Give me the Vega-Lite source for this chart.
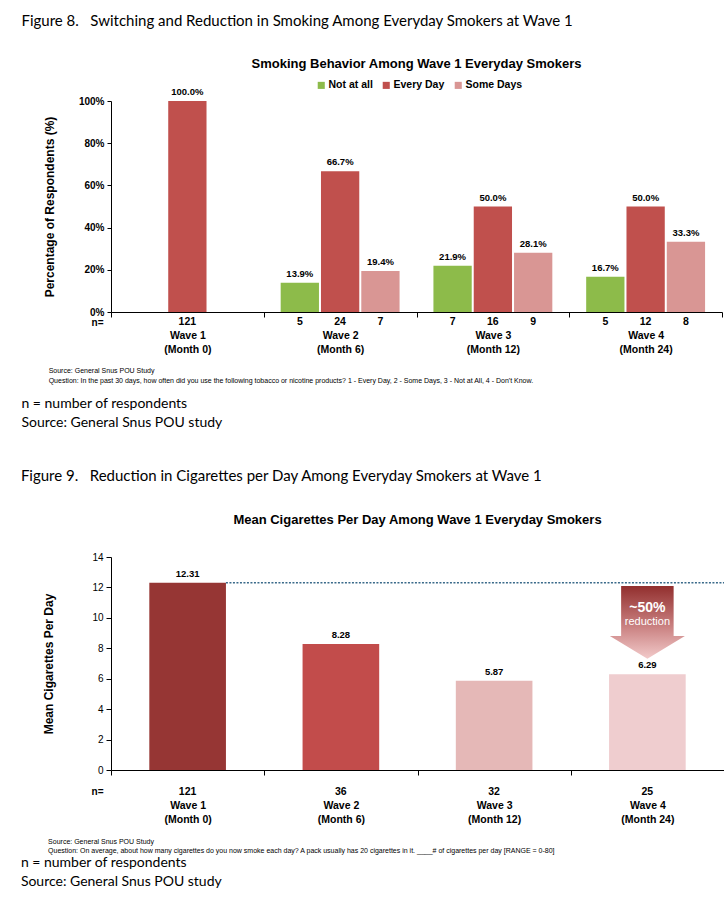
{
  "$schema": "https://vega.github.io/schema/vega-lite/v6.json",
  "background": "white",
  "padding": {"left": 20, "top": 14, "right": 0, "bottom": 0},
  "config": {
    "view": {"stroke": null},
    "font": "Liberation Sans",
    "axis": {"domainColor": "#000", "tickColor": "#000", "labelColor": "#000", "titleColor": "#000", "grid": false, "labelFont": "Liberation Sans", "titleFont": "Liberation Sans"},
    "title": {"color": "#000", "subtitleColor": "#000"}
  },
  "resolve": {"scale": {"color": "independent"}, "legend": {"color": "independent"}},
  "spacing": 39,
  "vconcat": [
    {
      "title": {"text": "Figure 8.\u00a0\u00a0 Switching and Reduction in Smoking Among Everyday Smokers at Wave 1", "anchor": "start", "font": "Lato", "fontSize": 15, "fontWeight": "normal", "dx": 0, "offset": 29},
      "vconcat": [
        {
          "title": {"text": ["\u200b\u00a0\u00a0\u00a0\u00a0\u00a0\u00a0\u00a0\u00a0\u00a0\u00a0\u00a0\u00a0\u00a0\u00a0Source: General Snus POU Study", "\u200b\u00a0\u00a0\u00a0\u00a0\u00a0\u00a0\u00a0\u00a0\u00a0\u00a0\u00a0\u00a0\u00a0\u00a0Question: In the past 30 days, how often did you use the following tobacco or nicotine products? 1 - Every Day, 2 - Some Days, 3 - Not at All, 4 - Don't Know."],
            "subtitle": ["n = number of respondents", "Source: General Snus POU study"],
            "orient": "bottom", "anchor": "start", "font": "Liberation Sans", "fontSize": 7, "fontWeight": "normal", "lineHeight": 10, "dx": -22, "offset": 12,
            "subtitleFont": "Lato", "subtitleFontSize": 14, "subtitleLineHeight": 19, "subtitlePadding": 13},
          "vconcat": [
            {
              "width": 611,
              "height": 211,
              "title": {"text": "Smoking Behavior Among Wave 1 Everyday Smokers", "fontSize": 13, "fontWeight": "bold", "anchor": "middle", "offset": 16},
              "data": {"values": [
                {"wave": "Wave 1 (Month 0)", "status": "Every Day", "pct": 1.0, "n": 121},
                {"wave": "Wave 2 (Month 6)", "status": "Not at all", "pct": 0.139, "n": 5},
                {"wave": "Wave 2 (Month 6)", "status": "Every Day", "pct": 0.667, "n": 24},
                {"wave": "Wave 2 (Month 6)", "status": "Some Days", "pct": 0.194, "n": 7},
                {"wave": "Wave 3 (Month 12)", "status": "Not at all", "pct": 0.219, "n": 7},
                {"wave": "Wave 3 (Month 12)", "status": "Every Day", "pct": 0.5, "n": 16},
                {"wave": "Wave 3 (Month 12)", "status": "Some Days", "pct": 0.281, "n": 9},
                {"wave": "Wave 4 (Month 24)", "status": "Not at all", "pct": 0.167, "n": 5},
                {"wave": "Wave 4 (Month 24)", "status": "Every Day", "pct": 0.5, "n": 12},
                {"wave": "Wave 4 (Month 24)", "status": "Some Days", "pct": 0.333, "n": 8}
              ]},
              "encoding": {
                "x": {"field": "wave", "type": "nominal", "scale": {"type": "band", "paddingInner": 0, "paddingOuter": 0},
                  "axis": {"title": "n=", "titleAngle": 0, "titleX": -14, "titleY": 5, "titleAlign": "center", "titleBaseline": "top", "titleFontSize": 10, "titleFontWeight": "bold",
                    "labelAngle": 0, "labelExpr": "[slice(datum.label, 0, 6), slice(datum.label, 7)]", "labelFontWeight": "bold", "labelFontSize": 10.5, "labelLineHeight": 14, "labelPadding": 13, "tickBand": "extent", "tickSize": 5}},
                "xOffset": {"field": "status", "type": "nominal", "sort": ["Not at all", "Every Day", "Some Days"], "scale": {"domain": ["Not at all", "Every Day", "Some Days"], "paddingInner": 0.05, "paddingOuter": 0.42}},
                "y": {"field": "pct", "type": "quantitative", "scale": {"domain": [0, 1], "nice": false},
                  "axis": {"title": "Percentage of Respondents (%)", "format": "%", "values": [0, 0.2, 0.4, 0.6, 0.8, 1], "labelFontWeight": "bold", "labelFontSize": 10, "titleFontSize": 12, "titleFontWeight": "bold", "tickSize": 4, "labelPadding": 3, "titlePadding": 22}}
              },
              "layer": [
                {
                  "mark": {"type": "bar"},
                  "encoding": {
                    "color": {"field": "status", "type": "nominal", "scale": {"domain": ["Not at all", "Every Day", "Some Days"], "range": ["#8DBB4A", "#C0504D", "#D99694"]},
                      "legend": {"title": null, "orient": "none", "legendX": 205, "legendY": -21, "direction": "horizontal", "symbolType": "square", "symbolSize": 50, "symbolStrokeWidth": 0, "labelFontSize": 10.5, "labelFontWeight": "bold", "labelColor": "#000", "columnPadding": 8, "labelOffset": 2}}
                  }
                },
                {
                  "mark": {"type": "text", "dy": -9, "fontWeight": "bold", "fontSize": 9.5, "color": "#000"},
                  "encoding": {
                    "text": {"field": "pct", "type": "quantitative", "format": ".1%"}
                  }
                },
                {
                  "mark": {"type": "text", "dy": 10, "fontWeight": "bold", "fontSize": 10.5, "color": "#000"},
                  "encoding": {
                    "y": {"datum": 0},
                    "text": {"field": "n", "type": "quantitative"}
                  }
                }
              ]
            }
          ]
        }
      ]
    },
    {
      "title": {"text": "Figure 9.\u00a0\u00a0 Reduction in Cigarettes per Day Among Everyday Smokers at Wave 1", "anchor": "start", "font": "Lato", "fontSize": 15, "fontWeight": "normal", "dx": 0, "offset": 30},
      "vconcat": [
        {
          "title": {"text": ["\u200b\u00a0\u00a0\u00a0\u00a0\u00a0\u00a0\u00a0\u00a0\u00a0\u00a0\u00a0\u00a0\u00a0\u00a0Source: General Snus POU Study", "\u200b\u00a0\u00a0\u00a0\u00a0\u00a0\u00a0\u00a0\u00a0\u00a0\u00a0\u00a0\u00a0\u00a0\u00a0Question: On average, about how many cigarettes do you now smoke each day? A pack usually has 20 cigarettes in it. ____# of cigarettes per day [RANGE = 0-80]"],
            "subtitle": ["n = number of respondents", "Source: General Snus POU study"],
            "orient": "bottom", "anchor": "start", "font": "Liberation Sans", "fontSize": 7, "fontWeight": "normal", "lineHeight": 9, "dx": -22, "offset": 13,
            "subtitleFont": "Lato", "subtitleFontSize": 14, "subtitleLineHeight": 19, "subtitlePadding": 2},
          "vconcat": [
            {
              "width": 613,
              "height": 213,
              "title": {"text": "Mean Cigarettes Per Day Among Wave 1 Everyday Smokers", "fontSize": 13, "fontWeight": "bold", "anchor": "middle", "offset": 25},
              "data": {"values": [
                {"wave": "Wave 1 (Month 0)", "mean": 12.31, "n": 121},
                {"wave": "Wave 2 (Month 6)", "mean": 8.28, "n": 36},
                {"wave": "Wave 3 (Month 12)", "mean": 5.87, "n": 32},
                {"wave": "Wave 4 (Month 24)", "mean": 6.29, "n": 25}
              ]},
              "encoding": {
                "x": {"field": "wave", "type": "nominal", "scale": {"type": "band", "paddingInner": 0, "paddingOuter": 0},
                  "axis": {"title": "n=", "titleAngle": 0, "titleX": -14, "titleY": 16, "titleAlign": "center", "titleBaseline": "top", "titleFontSize": 10, "titleFontWeight": "bold",
                    "labelAngle": 0, "labelExpr": "[slice(datum.label, 0, 6), slice(datum.label, 7)]", "labelFontWeight": "bold", "labelFontSize": 10.5, "labelLineHeight": 14, "labelPadding": 25, "tickBand": "extent", "tickSize": 5}},
                "y": {"field": "mean", "type": "quantitative", "scale": {"domain": [0, 14], "nice": false},
                  "axis": {"title": "Mean Cigarettes Per Day", "values": [0, 2, 4, 6, 8, 10, 12, 14], "labelFontSize": 10, "titleFontSize": 12, "titleFontWeight": "bold", "tickSize": 5, "labelPadding": 3, "titlePadding": 36}}
              },
              "layer": [
                {
                  "data": {"values": [{"wave": "Wave 1 (Month 0)", "wave_end": "Wave 4 (Month 24)", "mean": 12.31}]},
                  "mark": {"type": "rule", "strokeDash": [2, 1.5], "strokeWidth": 1.5, "color": "#3A6A8A"},
                  "encoding": {
                    "x": {"field": "wave", "type": "nominal", "bandPosition": 0.75},
                    "x2": {"field": "wave_end", "bandPosition": 1}
                  }
                },
                {
                  "mark": {"type": "bar", "width": {"band": 0.5}},
                  "encoding": {
                    "color": {"field": "wave", "type": "nominal", "scale": {"domain": ["Wave 1 (Month 0)", "Wave 2 (Month 6)", "Wave 3 (Month 12)", "Wave 4 (Month 24)"], "range": ["#963634", "#C24C4B", "#E5B8B7", "#EFCDCF"]}, "legend": null}
                  }
                },
                {
                  "mark": {"type": "text", "dy": -9, "fontWeight": "bold", "fontSize": 9.5, "color": "#000"},
                  "encoding": {
                    "text": {"field": "mean", "type": "quantitative", "format": ".2f"}
                  }
                },
                {
                  "mark": {"type": "text", "dy": 22, "fontWeight": "bold", "fontSize": 10.5, "color": "#000"},
                  "encoding": {
                    "y": {"datum": 0},
                    "text": {"field": "n", "type": "quantitative"}
                  }
                },
                {
                  "data": {"values": [{"wave": "Wave 4 (Month 24)", "mean": 9.7}]},
                  "mark": {"type": "point", "shape": "M-0.7,-0.97L0.7,-0.97L0.7,0.36L1,0.36L0,0.97L-1,0.36L-0.7,0.36Z", "size": 5625, "filled": true, "opacity": 1, "strokeWidth": 0,
                    "fill": {"gradient": "linear", "x1": 0, "y1": 0, "x2": 0, "y2": 1, "stops": [{"offset": 0, "color": "#922F2E"}, {"offset": 0.55, "color": "#C98080"}, {"offset": 1, "color": "#F2CACA"}]}}
                },
                {
                  "data": {"values": [{"wave": "Wave 4 (Month 24)", "mean": 10.65, "label": "~50%"}]},
                  "mark": {"type": "text", "fontWeight": "bold", "fontSize": 14, "color": "white"},
                  "encoding": {
                    "text": {"field": "label"}
                  }
                },
                {
                  "data": {"values": [{"wave": "Wave 4 (Month 24)", "mean": 9.7, "label": "reduction"}]},
                  "mark": {"type": "text", "fontSize": 11, "color": "white"},
                  "encoding": {
                    "text": {"field": "label"}
                  }
                }
              ]
            }
          ]
        }
      ]
    }
  ]
}
